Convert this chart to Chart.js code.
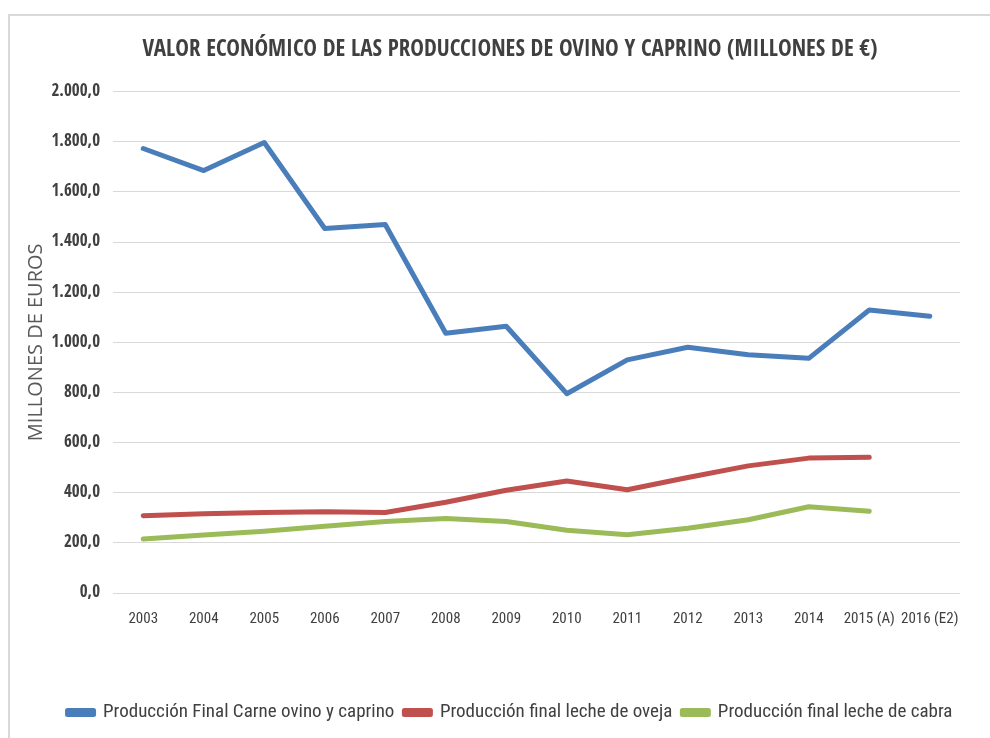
<!DOCTYPE html>
<html>
<head>
<meta charset="utf-8">
<script src="https://cdn.jsdelivr.net/npm/chart.js@4"></script>
<style>
  html, body { margin: 0; padding: 0; background: #fff; }
  #card {
    position: absolute; left: 8px; top: 14px; width: 990px; height: 730px;
    border-top: 2px solid #d9d9d9; border-left: 2px solid #d9d9d9;
  }
  #wrap { position: absolute; left: 0; top: 0; width: 990px; height: 738px; }
</style>
</head>
<body>
<div id="card"></div>
<div id="wrap"><canvas id="myChart"></canvas></div>
<script>
let years = ['2003', '2004', '2005', '2006', '2007', '2008', '2009', '2010', '2011', '2012', '2013', '2014', '2015 (A)', '2016 (E2)'];
let carne = [1773, 1685, 1797, 1454, 1470, 1036, 1064, 795, 930, 980, 950, 936, 1129, 1104];
let lecheOveja = [308, 316, 321, 324, 321, 362, 410, 447, 412, 461, 507, 538, 541, null];
let lecheCabra = [215, 231, 246, 266, 285, 297, 285, 250, 232, 258, 292, 344, 326, null];

const narrowBold = "'Open Sans Condensed', 'Roboto Condensed', sans-serif";
const narrow = "'Roboto Condensed', 'Open Sans Condensed', sans-serif";

function formatEs(v) {
    let parts = v.toFixed(1).split('.');
    parts[0] = parts[0].replace(/\B(?=(\d{3})+(?!\d))/g, '.');
    return parts[0] + ',' + parts[1];
}

// title and legend are centred on the whole card in the original, not on the plot box
const centreOnCard = {
    id: 'centreOnCard',
    afterLayout(chart) {
        for (const b of [chart.titleBlock, chart.legend]) {
            b.left += 18;
            b.right += 18;
        }
    }
};

const ctx = document.getElementById('myChart').getContext('2d');
const myChart = new Chart(ctx, {
    type: 'line',
    data: {
        labels: years,
        datasets: [{
            label: 'Producción Final Carne ovino y caprino',
            data: carne,
            borderColor: '#4a7ebb',
            backgroundColor: '#4a7ebb'
        }, {
            label: 'Producción final leche de oveja',
            data: lecheOveja,
            borderColor: '#c0504d',
            backgroundColor: '#c0504d'
        }, {
            label: 'Producción final leche de cabra',
            data: lecheCabra,
            borderColor: '#9bbb59',
            backgroundColor: '#9bbb59'
        }]
    },
    plugins: [centreOnCard],
    options: {
        responsive: true,
        maintainAspectRatio: false,
        animation: false,
        elements: {
            line: { borderWidth: 5, tension: 0, borderCapStyle: 'round', borderJoinStyle: 'round' },
            point: { radius: 0, hoverRadius: 0 }
        },
        layout: { padding: { top: 16, right: 30, left: 24, bottom: 6 } },
        plugins: {
            title: {
                display: true,
                text: 'VALOR ECONÓMICO DE LAS PRODUCCIONES DE OVINO Y CAPRINO (MILLONES DE €)',
                color: '#404040',
                font: { family: narrowBold, size: 23, weight: 'bold' },
                padding: { top: 20, bottom: 28 }
            },
            legend: {
                position: 'bottom',
                labels: {
                    boxWidth: 26,
                    boxHeight: 4,
                    color: '#404040',
                    font: { family: narrow, size: 19, weight: 'normal' },
                    padding: 10
                }
            },
            tooltip: { enabled: false }
        },
        scales: {
            x: {
                offset: true,
                grid: { display: false },
                border: { display: false },
                ticks: {
                    color: '#404040',
                    font: { family: narrow, size: 15, weight: 'normal' },
                    maxRotation: 0,
                    autoSkip: false,
                    padding: 9
                },
                afterFit: function (scale) { scale.height = 100; }
            },
            y: {
                min: 0,
                max: 2000,
                grid: { color: '#d9d9d9', drawTicks: false, lineWidth: 1 },
                border: { display: false },
                ticks: {
                    stepSize: 200,
                    color: '#404040',
                    padding: 13,
                    font: { family: narrowBold, size: 17, weight: 'bold' },
                    callback: function (v) { return formatEs(v); }
                },
                title: {
                    display: true,
                    text: 'MILLONES DE EUROS',
                    color: '#595959',
                    font: { family: "'Open Sans', sans-serif", size: 20, weight: 'normal' },
                    padding: { top: 0, bottom: 0 }
                },
                afterFit: function (scale) { scale.width = 89; }
            }
        }
    }
});
</script>
</body>
</html>
